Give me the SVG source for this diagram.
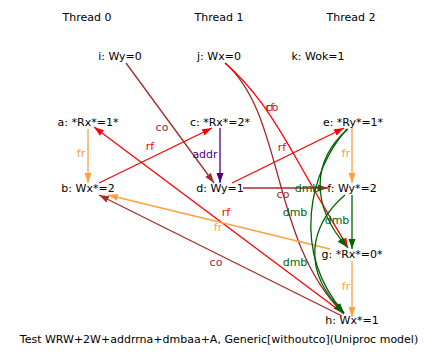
<svg xmlns="http://www.w3.org/2000/svg" width="441" height="361" viewBox="0 0 441 361">
<style>
text{font-family:"DejaVu Sans","Noto Sans",sans-serif;font-size:11px;text-anchor:middle;fill:#000}
.e{fill:none;stroke-width:1.3}
.rf{stroke:#ff0000}.co{stroke:#a52a2a}.fr{stroke:#ffa040}.addr{stroke:#4b0082}.dmb{stroke:#006400}
text.rf{fill:#ff0000;stroke:none}text.co{fill:#a52a2a;stroke:none}text.fr{fill:#ffa040;stroke:none}text.addr{fill:#4b0082;stroke:none}text.dmb{fill:#006400;stroke:none}
</style>
<defs>
<marker id="mrf" markerUnits="userSpaceOnUse" markerWidth="10" markerHeight="8" refX="10" refY="4" orient="auto"><path d="M0,0.5 L10,4 L0,7.5 z" fill="#ff0000"/></marker>
<marker id="mco" markerUnits="userSpaceOnUse" markerWidth="10" markerHeight="8" refX="10" refY="4" orient="auto"><path d="M0,0.5 L10,4 L0,7.5 z" fill="#a52a2a"/></marker>
<marker id="mfr" markerUnits="userSpaceOnUse" markerWidth="10" markerHeight="8" refX="10" refY="4" orient="auto"><path d="M0,0.5 L10,4 L0,7.5 z" fill="#ffa040"/></marker>
<marker id="maddr" markerUnits="userSpaceOnUse" markerWidth="10" markerHeight="8" refX="10" refY="4" orient="auto"><path d="M0,0.5 L10,4 L0,7.5 z" fill="#4b0082"/></marker>
<marker id="mdmb" markerUnits="userSpaceOnUse" markerWidth="10" markerHeight="8" refX="10" refY="4" orient="auto"><path d="M0,0.5 L10,4 L0,7.5 z" fill="#006400"/></marker>
</defs>
<rect width="441" height="361" fill="#fff"/>
<g id="threads">
<text x="87" y="21">Thread 0</text>
<text x="219" y="21">Thread 1</text>
<text x="351" y="21">Thread 2</text>
</g>
<g id="connectors">
<path class="e co" d="M126,63 L214,183" marker-end="url(#mco)"/>
<path class="e co" d="M225,63 C285,115 270,240 343,313" marker-end="url(#mco)"/>
<path class="e rf" d="M225,63 C252,86 272,115 300,165 S338,230 348,248" marker-end="url(#mrf)"/>
<path class="e fr" d="M88,129 L88,183" marker-end="url(#mfr)"/>
<path class="e addr" d="M220,128 L220,183" marker-end="url(#maddr)"/>
<path class="e fr" d="M352,128 L352,183" marker-end="url(#mfr)"/>
<path class="e rf" d="M99,183 L212,128" marker-end="url(#mrf)"/>
<path class="e rf" d="M232,183 L344,128" marker-end="url(#mrf)"/>
<path class="e rf" d="M344,314 L94,127" marker-end="url(#mrf)"/>
<path class="e fr" d="M330,249 L108,195" marker-end="url(#mfr)"/>
<path class="e co" d="M342,316 L99,195" marker-end="url(#mco)"/>
<path class="e co" d="M243,188 L328,188" marker-end="url(#mco)"/>
<path class="e dmb" d="M352,195 L352,249" marker-end="url(#mdmb)"/>
<path class="e dmb" d="M348,129 C312,160 310,205 347,247" marker-end="url(#mdmb)"/>
<path class="e dmb" d="M347,129 C310,170 290,250 344,313" marker-end="url(#mdmb)"/>
<path class="e dmb" d="M345,195 C310,225 300,270 344,313" marker-end="url(#mdmb)"/>
<path class="e fr" d="M352,261 L352,317" marker-end="url(#mfr)"/>
<text class="co" x="162" y="131">co</text>
<text class="rf" x="150" y="150">rf</text>
<text class="fr" x="81" y="157">fr</text>
<text class="addr" x="205" y="158">addr</text>
<text class="fr" x="218" y="231">fr</text>
<text class="rf" x="226" y="216">rf</text>
<text class="co" x="216" y="266">co</text>
<text class="co" x="283" y="198">co</text>
<text class="dmb" x="307" y="192">dmb</text>
<text class="rf" x="282" y="151">rf</text>
<text class="co" x="272" y="111">co</text>
<text class="rf" x="270" y="111">rf</text>
<text class="fr" x="346" y="157">fr</text>
<text class="dmb" x="295" y="216">dmb</text>
<text class="dmb" x="337" y="224">dmb</text>
<text class="dmb" x="295" y="266">dmb</text>
<text class="fr" x="346" y="290">fr</text>
</g>
<g id="i"><text x="120" y="60">i: Wy=0</text></g>
<g id="j"><text x="219" y="60">j: Wx=0</text></g>
<g id="k"><text x="318" y="60">k: Wok=1</text></g>
<g id="a"><text x="88" y="126">a: *Rx*=1*</text></g>
<g id="c"><text x="220" y="126">c: *Rx*=2*</text></g>
<g id="e"><text x="353" y="126">e: *Ry*=1*</text></g>
<g id="b"><text x="88" y="192">b: Wx*=2</text></g>
<g id="d"><text x="220" y="192">d: Wy=1</text></g>
<g id="f"><text x="352" y="192">f: Wy*=2</text></g>
<g id="g"><text x="352" y="258">g: *Rx*=0*</text></g>
<g id="h"><text x="352" y="324">h: Wx*=1</text></g>
<g id="title"><text x="219" y="343">Test WRW+2W+addrrna+dmbaa+A, Generic[withoutco](Uniproc model)</text></g>
</svg>
